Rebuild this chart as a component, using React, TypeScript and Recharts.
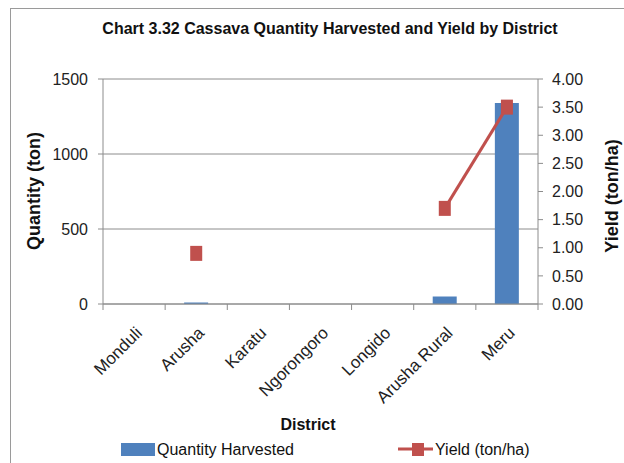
import React from 'react';
import {
  Bar,
  CartesianGrid,
  ComposedChart,
  Line,
  XAxis,
  YAxis,
} from 'recharts';

const districts = [
  'Monduli',
  'Arusha',
  'Karatu',
  'Ngorongoro',
  'Longido',
  'Arusha Rural',
  'Meru',
];
const quantityHarvested = [0, 10, 0, 0, 0, 50, 1340];
const yieldTonHa = [null, 0.9, null, null, null, 1.7, 3.5];
const quantityTicks = [0, 500, 1000, 1500];
const yieldTicks = [0, 0.5, 1, 1.5, 2, 2.5, 3, 3.5, 4];

const BLUE = '#4F81BD';
const RED = '#C0504D';
const AXIS = '#8c8c8c';
const FONT = "'Liberation Sans', Arial, sans-serif";

const W = 624;
const H = 463;
const PLOT_LEFT = 103;
const PLOT_RIGHT = 538;
const BAND = (PLOT_RIGHT - PLOT_LEFT) / districts.length;

const data = districts.map((district, i) => ({
  district,
  quantity: quantityHarvested[i],
  yield: yieldTonHa[i],
}));

function DistrictTick(props: any) {
  const { x, y, payload, index } = props;
  const tx = x + 9;
  const ty = y + 30;
  return (
    <g>
      {index === 0 && (
        <line x1={x - BAND / 2} x2={x - BAND / 2} y1={y} y2={y + 6} stroke={AXIS} />
      )}
      <line x1={x + BAND / 2} x2={x + BAND / 2} y1={y} y2={y + 6} stroke={AXIS} />
      <text
        x={tx}
        y={ty}
        textAnchor='end'
        fontSize={17}
        fontFamily={FONT}
        fill='#222'
        transform={`rotate(-45 ${tx} ${ty})`}
      >
        {payload.value}
      </text>
    </g>
  );
}

function SquareDot(props: any) {
  const { cx, cy, value } = props;
  if (value == null || cx == null || cy == null) return <g />;
  return <rect x={cx - 6} y={cy - 7.5} width={12} height={15} fill={RED} />;
}

export default function App() {
  return (
    <div style={{ position: 'absolute', left: 0, top: 0, width: W, height: H, background: '#fff' }}>
      <div
        style={{
          position: 'absolute',
          left: 10,
          top: 8,
          width: W,
          height: H,
          borderLeft: '1px solid #9a9a9a',
          borderTop: '1px solid #9a9a9a',
        }}
      />
      <ComposedChart
        width={W}
        height={H}
        data={data}
        margin={{ top: 79, right: 0, bottom: 0, left: 20 }}
        barSize={24}
      >
        <CartesianGrid yAxisId='left' vertical={false} stroke={AXIS} />
        <XAxis
          dataKey='district'
          height={159}
          axisLine={{ stroke: AXIS }}
          tickLine={false}
          tickSize={0}
          tickMargin={0}
          interval={0}
          tick={<DistrictTick />}
        />
        <YAxis
          yAxisId='left'
          width={83}
          domain={[0, 1500]}
          ticks={quantityTicks}
          axisLine={{ stroke: AXIS }}
          tickLine={{ stroke: AXIS }}
          tickSize={5}
          tickMargin={10}
          tick={{ fill: '#222', fontSize: 16, fontFamily: FONT }}
        />
        <YAxis
          yAxisId='right'
          orientation='right'
          width={86}
          domain={[0, 4]}
          ticks={yieldTicks}
          tickFormatter={(v: number) => v.toFixed(2)}
          axisLine={{ stroke: AXIS }}
          tickLine={{ stroke: AXIS }}
          tickSize={5}
          tickMargin={9}
          tick={{ fill: '#222', fontSize: 16, fontFamily: FONT }}
        />
        <Bar yAxisId='left' dataKey='quantity' fill={BLUE} isAnimationActive={false} />
        <Line
          yAxisId='right'
          dataKey='yield'
          stroke={RED}
          strokeWidth={3}
          connectNulls={false}
          dot={<SquareDot />}
          activeDot={false}
          isAnimationActive={false}
        />
      </ComposedChart>
      <svg
        width={W}
        height={H}
        style={{ position: 'absolute', left: 0, top: 0, pointerEvents: 'none' }}
      >
        <text x={330} y={34} textAnchor='middle' fontSize={16} fontWeight='bold' fontFamily={FONT} fill='#111'>
          Chart 3.32 Cassava Quantity Harvested and Yield by District
        </text>
        <text
          x={40}
          y={191}
          textAnchor='middle'
          fontSize={18}
          fontWeight='bold'
          fontFamily={FONT}
          fill='#111'
          transform='rotate(-90 40 191)'
        >
          Quantity (ton)
        </text>
        <text
          x={618}
          y={196}
          textAnchor='middle'
          fontSize={18}
          fontWeight='bold'
          fontFamily={FONT}
          fill='#111'
          transform='rotate(-90 618 196)'
        >
          Yield (ton/ha)
        </text>
        <text x={308} y={430} textAnchor='middle' fontSize={16} fontWeight='bold' fontFamily={FONT} fill='#111'>
          District
        </text>
        <rect x={121} y={443} width={34} height={13} fill={BLUE} />
        <text x={157} y={455} fontSize={16} fontFamily={FONT} fill='#111'>
          Quantity Harvested
        </text>
        <line x1={398} x2={433} y1={449} y2={449} stroke={RED} strokeWidth={3} />
        <rect x={412} y={443} width={12} height={13} fill={RED} />
        <text x={435} y={455} fontSize={16} fontFamily={FONT} fill='#111'>
          Yield (ton/ha)
        </text>
      </svg>
    </div>
  );
}
